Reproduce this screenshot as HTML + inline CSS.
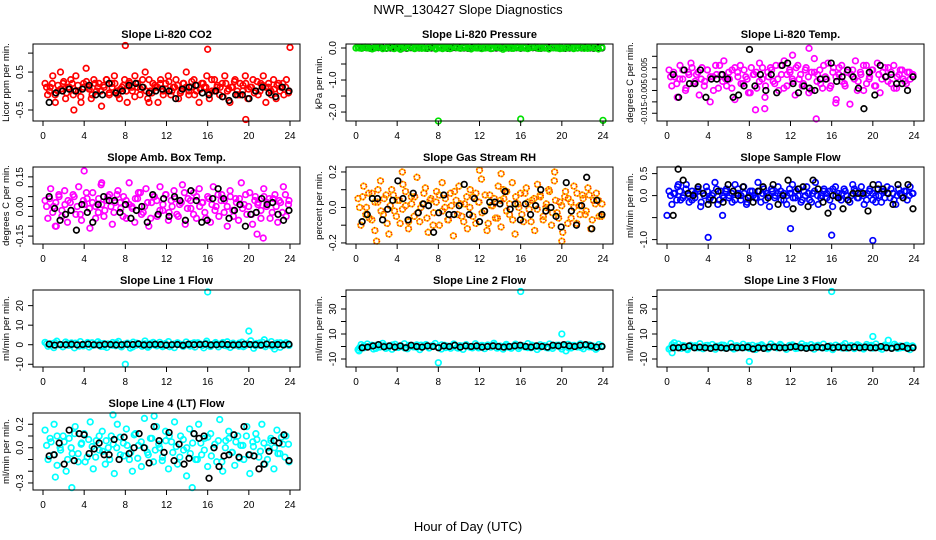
<!DOCTYPE html>
<html><head><meta charset="utf-8"><style>
html,body{margin:0;padding:0;background:#fff;}
svg{display:block;font-family:"Liberation Sans",Arial,sans-serif;}
</style></head><body>
<svg id="chart" width="936" height="540" viewBox="0 0 936 540" xmlns="http://www.w3.org/2000/svg">
<text x="468" y="14" text-anchor="middle" font-size="13">NWR_130427  Slope Diagnostics</text>
<text x="468" y="531" text-anchor="middle" font-size="13">Hour of Day (UTC)</text>
</svg>
<script>
// ---- data arrays ----
const xTicks = [0,4,8,12,16,20,24];
const co2Vals = [0.2,-0.1,0.1,0.4,-0.3,0.0,0.5,0.2,-0.2,0.1,0.3,-0.1,0.4,0.0,-0.3,0.2,0.6,0.1,-0.2,0.3,0.0,0.2,-0.4,0.1,0.3,-0.1,0.2,0.4,0.0,-0.2,0.1,0.3,-0.3,0.2,0.0,0.4,0.1,-0.1,0.3,0.5,-0.2,0.0,0.2,0.1,-0.3,0.3,0.0,0.2,0.4,-0.1,0.1,0.3,-0.2,0.0,0.2,0.5,-0.1,0.1,0.3,0.0,-0.3,0.2,0.1,0.4,-0.2,0.0,0.3,0.1,-0.1,0.2,0.4,0.0,-0.3,0.1,0.3,-0.1,0.2,0.0,0.4,-0.2,0.1,0.3,0.0,-0.1,0.2,0.4,-0.3,0.1,0.0,0.3,-0.2,0.2,0.1,-0.1,0.3,0.0];
const co2Vals2 = [0.1,0.0,0.2,-0.1,0.15,0.05,0.25,-0.05,0.1,0.2,0.0,0.15,-0.15,0.1,0.25,0.05,-0.1,0.2,0.1,0.0,0.15,0.3,-0.05,0.1,0.2,-0.1,0.05,0.15,0.0,0.25,0.1,-0.15,0.2,0.05,0.1,0.0,0.3,-0.05,0.15,0.1,0.2,-0.1,0.05,0.25,0.0,0.1,0.15,-0.05,0.2,0.1,0.0,0.25,-0.1,0.15,0.05,0.2,0.1,-0.05,0.3,0.0,0.15,0.1,-0.15,0.2,0.05,0.1,0.25,0.0,-0.1,0.15,0.2,0.05,0.1,-0.05,0.25,0.0,0.15,0.1,0.2,-0.1,0.05,0.15,0.0,0.2,0.1,-0.05];
const co2Black = [-0.3,-0.05,0.0,0.05,0.0,0.05,0.15,-0.1,-0.1,0.2,-0.05,0.0,0.15,0.2,0.1,-0.05,0.0,0.05,0.0,-0.2,0.05,0.1,0.15,-0.05,-0.1,0.0,-0.15,-0.25,-0.1,-0.1,-0.2,0.0,0.1,-0.05,-0.15,0.1,0.0];
const co2OutHours = [8,16,19.7,24,3,10.3];
const co2OutVals = [1.2,1.1,-0.75,1.15,-0.5,-0.3];

const presVals = [0.02,-0.01,0.03,0.0,-0.03,0.01,0.02,-0.02,0.0,0.03,-0.01,0.01,-0.04,0.02,0.0,0.03,-0.02,0.01,0.02,-0.01,0.0,0.03,-0.03,0.01,0.02,0.0,-0.02,0.03,0.01,-0.01,0.02,0.0,-0.03,0.01,0.03,-0.02,0.0,0.02,-0.01,0.03,0.01,-0.04,0.0,0.02,-0.01,0.03,0.0,0.01,-0.02,0.02,0.03,-0.01,0.0,0.01,-0.03,0.02,0.0,0.03,-0.01,0.01,0.02,-0.02,0.0,0.03,-0.01,0.01,0.02,0.0,-0.03,0.02];
const presVals2 = [0.0,0.01,-0.01,0.02,0.0,-0.02,0.01,0.0,0.02,-0.01,0.0,0.01,-0.02,0.0,0.02,0.01,-0.01,0.0,0.01,-0.02,0.02,0.0,-0.01,0.01,0.0,0.02,-0.01,0.0,0.01,-0.02,0.0,0.02,0.01,-0.01,0.0,0.01];
const presBlack = [0.0,0.01,-0.01,0.0,0.01,0.0,-0.01,0.0,0.01,0.0,0.0,-0.01,0.01,0.0,0.0,0.01,-0.01,0.0,0.0,0.01,0.0,-0.01,0.0,0.01,0.0,0.0,-0.01,0.0,0.01,0.0,0.0,0.01,-0.01,0.0,0.0,0.01,0.0,0.0,0.01,-0.01,0.0,0.0,0.01,0.0,-0.01,0.0,0.0,0.01,0.0,0.0,-0.01,0.0,0.01,0.0,0.0,0.01,0.0,-0.01,0.0,0.0];
const presOutHours = [8,16,24,0];
const presOutVals = [-2.28,-2.22,-2.26,0.0];

const tempVals = [0.004,-0.003,0.001,-0.008,0.006,0.0,-0.005,0.003,0.007,-0.002,0.002,-0.007,0.005,-0.001,0.004,-0.010,0.001,0.006,-0.004,0.002,0.008,-0.003,0.0,0.004,-0.009,0.003,0.006,-0.002,0.001,-0.006,0.005,0.002,-0.004,0.007,0.0,-0.008,0.003,0.005,-0.001,0.006,-0.005,0.002,0.008,-0.003,0.004,0.0,-0.007,0.006,0.002,-0.002,0.005,-0.006,0.003,0.009,-0.001,0.004,-0.004,0.001,0.007,-0.003,0.005,-0.009,0.002,0.006,-0.002,0.003,-0.011,0.004,0.008,-0.001,0.002,-0.005,0.006,0.0,0.004,-0.003,0.007,-0.006,0.003,0.001,0.005,-0.002,0.006,-0.004,0.002,0.004,-0.001,0.003,0.0,0.002];
const tempVals2 = [0.001,0.003,-0.002,0.0,0.004,-0.004,0.002,0.005,-0.001,0.003,0.0,-0.003,0.004,0.001,-0.005,0.002,0.006,-0.001,0.0,0.003,-0.004,0.005,0.001,-0.002,0.004,0.0,-0.006,0.002,0.003,-0.001,0.005,-0.003,0.001,0.004,-0.002,0.0,0.006,-0.004,0.002,0.003,-0.001,0.005,0.0,-0.003,0.004,0.001,-0.005,0.003,0.002,-0.002,0.006,0.0,-0.004,0.003,0.001,0.005,-0.001,-0.003,0.004,0.002,0.0,-0.005,0.003,0.006,-0.002,0.001,0.004,-0.003,0.002,0.0,0.005,-0.001,0.003,-0.004,0.001,0.004,0.0,-0.002,0.003,0.002];
const tempBlack = [0.002,-0.008,0.004,-0.002,-0.002,0.004,-0.008,0.0,0.0,0.002,0.0,-0.008,-0.007,-0.003,0.013,-0.003,0.002,-0.005,0.002,-0.006,0.006,0.007,-0.002,-0.006,-0.003,-0.004,-0.005,0.0,0.0,0.007,-0.001,0.001,0.004,0.001,-0.004,-0.013,0.003,-0.007,0.006,0.001,0.002,-0.002,-0.002,-0.005,0.001];
const tempOutHours = [14.5,13.8,8.6,9.5,12.2,16.4];
const tempOutVals = [-0.0175,0.0135,-0.0135,-0.0130,0.0105,-0.0105];

const ambVals = [0.03,-0.06,0.09,0.0,-0.1,0.05,-0.02,0.08,-0.08,0.02,0.06,-0.04,0.1,-0.07,0.01,0.04,-0.11,0.07,0.0,-0.03,0.11,-0.05,0.03,0.06,-0.09,0.02,0.08,-0.01,0.05,-0.06,0.12,0.0,-0.08,0.04,0.07,-0.03,0.09,-0.1,0.02,0.05,-0.05,0.1,-0.02,0.06,-0.07,0.03,0.08,-0.04,0.01,0.11,-0.09,0.04,-0.01,0.07,-0.06,0.09,0.02,-0.03,0.05,-0.08,0.1,0.0,-0.05,0.06,0.03,-0.1,0.08,-0.02,0.04,-0.07,0.12,0.01,-0.04,0.07,-0.09,0.05,0.02,-0.06,0.09,0.0,0.04,-0.03,0.06,-0.08,0.02,0.1,-0.05,0.03];
const ambVals2 = [0.0,0.04,-0.03,0.02,0.06,-0.05,0.01,0.03,-0.02,0.05,0.0,-0.04,0.03,0.07,-0.01,0.02,-0.06,0.04,0.01,-0.02,0.05,0.0,-0.03,0.06,0.02,-0.05,0.03,0.01,-0.01,0.04,0.07,-0.04,0.0,0.02,-0.06,0.05,0.03,-0.02,0.01,0.06,-0.03,0.0,0.04,-0.05,0.02,0.07,-0.01,0.03,-0.04,0.05,0.0,0.02,-0.06,0.04,0.01,-0.02,0.06,0.03,-0.03,0.0,0.05,-0.05,0.02,0.04,-0.01,0.06,0.0,-0.04,0.03,0.01,-0.02,0.05,0.02,-0.06,0.04,0.0,0.03,-0.03,0.06,0.01];
const ambBlack = [0.05,-0.01,-0.07,-0.04,-0.02,-0.12,0.01,-0.03,-0.08,0.01,0.05,0.03,0.03,-0.03,0.01,-0.06,-0.02,0.0,-0.08,0.06,-0.04,0.04,-0.05,0.05,0.03,-0.07,0.08,0.03,-0.08,-0.07,0.04,0.09,0.04,-0.06,-0.02,0.01,-0.1,-0.04,-0.03,0.04,0.01,0.02,-0.04,-0.07,-0.02];
const ambOutHours = [4,20.8,21.4,5.7,1.2];
const ambOutVals = [0.18,-0.14,-0.16,0.12,-0.1];

const rhVals = [0.05,-0.1,0.12,0.0,-0.06,0.08,-0.13,0.03,0.15,-0.04,0.07,-0.15,0.1,-0.02,0.04,-0.09,0.13,0.01,-0.12,0.06,-0.05,0.17,-0.08,0.02,0.11,-0.14,0.05,-0.03,0.09,-0.1,0.14,0.0,-0.07,0.08,-0.16,0.04,0.12,-0.05,0.02,-0.12,0.1,0.06,-0.09,0.03,0.16,-0.02,-0.13,0.07,0.01,-0.06,0.12,-0.11,0.05,0.09,-0.04,0.14,-0.15,0.02,0.08,-0.08,0.11,-0.01,0.04,-0.13,0.13,0.06,-0.07,0.0,0.1,-0.1,0.15,-0.03,0.03,-0.14,0.09,0.05,-0.06,0.12,-0.09,0.01,0.07,-0.04,0.11,-0.12,0.04,0.08,-0.05,0.02];
const rhVals2 = [0.0,0.06,-0.04,0.08,-0.07,0.03,0.1,-0.02,0.05,-0.09,0.01,0.07,-0.05,0.04,-0.01,0.09,-0.08,0.02,0.06,-0.03,0.0,0.08,-0.06,0.04,-0.1,0.03,0.07,-0.02,0.05,-0.07,0.01,0.09,-0.04,0.02,-0.08,0.06,0.0,-0.05,0.08,0.03,-0.03,0.07,-0.09,0.01,0.05,-0.06,0.04,0.1,-0.02,0.02,-0.07,0.06,0.0,-0.04,0.08,0.03,-0.08,0.05,-0.01,0.07,-0.05,0.02,0.09,-0.03,0.04,-0.06,0.01,0.06,-0.09,0.03,0.0,0.08,-0.04,0.05,-0.02,0.07,-0.07,0.02,0.04,-0.05];
const rhBlack = [-0.08,-0.04,0.05,0.05,-0.07,-0.01,0.04,0.15,0.05,-0.07,0.08,-0.03,0.02,0.01,-0.14,-0.03,0.07,-0.04,-0.04,0.01,0.13,-0.04,0.05,-0.08,-0.02,0.03,0.03,0.02,0.09,-0.01,0.02,-0.07,0.02,-0.04,0.01,0.1,-0.02,0.0,-0.05,-0.11,0.14,-0.02,-0.1,0.01,0.17,-0.12,0.04,-0.04];
const rhOutHours = [2,4.5,12,14.1,19.3,20];
const rhOutVals = [-0.19,0.2,0.21,0.19,0.2,-0.19];

const sampVals = [0.1,-0.2,0.05,0.2,-0.1,0.0,0.25,-0.15,0.1,-0.05,0.15,-0.25,0.05,0.2,-0.1,0.0,0.3,-0.2,0.1,-0.05,0.15,0.0,-0.15,0.25,0.05,-0.1,0.2,-0.2,0.0,0.1,-0.05,0.3,-0.15,0.15,0.05,-0.25,0.1,0.0,0.2,-0.1,0.05,-0.2,0.15,0.25,-0.05,0.0,-0.15,0.1,0.2,-0.1,0.05,0.3,-0.2,0.0,0.15,-0.05,0.1,-0.25,0.2,0.05,-0.1,0.15,0.0,-0.15,0.25,0.1,-0.05,0.2,-0.2,0.05,0.15,-0.1,0.0,0.25,-0.15,0.1,0.2,-0.05,0.05,-0.2,0.15,0.0,0.1,-0.1,0.2,0.05];
const sampVals2 = [0.0,0.05,-0.1,0.1,-0.05,0.15,0.0,-0.1,0.05,0.1,-0.15,0.0,0.1,-0.05,0.05,0.15,-0.1,0.0,0.1,-0.05,0.05,-0.1,0.15,0.0,0.05,-0.15,0.1,0.0,-0.05,0.1,0.05,-0.1,0.0,0.15,-0.05,0.05,0.1,-0.1,0.0,0.05,-0.05,0.1,0.15,-0.1,0.0,0.05,-0.15,0.1,0.0,-0.05,0.1,0.05,-0.1,0.15,0.0,-0.05,0.05,0.1,-0.1,0.0,0.15,-0.05,0.05,0.0,-0.1,0.1,0.05,-0.15,0.0,0.1,-0.05,0.05,0.15,-0.1,0.0,0.05,-0.05,0.1,0.0,0.05];
const sampBlack = [-0.45,0.6,0.35,0.05,0.0,0.2,0.05,-0.2,-0.1,0.1,-0.15,0.25,0.1,0.0,0.2,-0.05,-0.15,0.1,0.2,-0.05,0.25,-0.2,0.0,0.35,-0.3,0.15,0.2,-0.25,0.35,0.15,-0.15,-0.4,0.0,-0.05,-0.3,-0.1,0.05,0.05,0.05,-0.35,0.25,0.15,0.15,0.05,-0.2,0.25,-0.05,0.25,-0.3];
const sampOutHours = [4,12,16,20,0,5.4,1.1];
const sampOutVals = [-0.95,-0.75,-0.9,-1.02,-0.45,-0.45,0.25];

const l1Vals = [1.2,-0.8,0.5,-1.5,1.8,0.0,-1.0,1.4,-0.3,0.9,-1.6,0.4,1.6,-0.6,0.2,-1.2,1.0,-0.1,1.5,-0.9,0.6,-1.4,0.3,1.1,-0.5,1.7,-1.1,0.1,0.8,-1.7,1.3,-0.2,0.4,-0.8,1.9,-1.3,0.7,0.0,-0.6,1.2,-1.0,0.5,1.6,-0.4,-1.5,0.9,0.2,-0.9,1.4,-0.1,0.6,-1.2,1.0,0.3,-1.6,1.8,-0.7,0.1,1.1,-1.1,0.5,-0.3,1.5,-1.4,0.8,0.0,-0.8,1.3,-0.5,0.4,2.0,-1.8,0.7,-0.2,1.2,-1.0,0.3,1.6,-0.6,0.9,-1.3,0.2,1.0,-0.4];
const l1Vals2 = [0.5,-0.5,1.0,0.0,-1.0,0.6,-0.3,0.8,-0.7,0.2,1.1,-0.4,0.0,0.7,-0.9,0.4,-0.2,1.0,-0.6,0.3,0.0,-1.1,0.8,-0.1,0.5,-0.8,1.2,0.1,-0.5,0.6,-1.0,0.3,0.9,-0.3,0.0,-0.7,1.0,0.2,-0.4,0.7,-0.9,0.4,0.0,1.1,-0.6,0.2,-0.2,0.8,-1.0,0.5,0.1,-0.5,0.9,-0.3,0.6,-0.8,0.0,1.0,-0.1,0.4];
const l1Black = [0.3,-0.2,0.1,0.0,0.2,-0.1,0.1,0.3,0.0,-0.2,0.2,0.1,-0.1,0.0,0.2,0.1,0.4,-0.1,0.0,0.2,0.1,-0.2,0.0,0.1,-0.3,0.2,0.0,0.1,0.3,-0.1,0.0,0.2,0.1,-0.1,0.0,0.2,0.1,0.0,-0.2,0.3,0.0,0.1,-0.1,0.2];
const l1OutHours = [16,20,8,22.5,21.5];
const l1OutVals = [27,7,-10,-2.2,2.5];

const l2Vals = [-2.5,1.5,-1.0,2.0,0.0,-2.0,1.0,-0.5,2.5,-1.5,0.5,-2.2,1.8,-0.8,0.2,2.2,-1.8,0.8,-0.3,1.3,-2.5,0.0,1.6,-1.2,0.6,2.4,-0.6,-2.0,1.0,0.3,-1.4,2.0,-0.9,0.7,-2.3,1.5,0.0,-1.1,2.2,-0.4,0.9,-1.7,1.2,-0.2,2.6,-1.3,0.4,-2.1,1.7,-0.7,0.1,1.9,-1.6,0.8,-0.3,2.3,-1.0,0.5,-2.4,1.4,0.2,-0.9,2.0,-1.5,0.6,1.1,-2.0,0.0,1.8,-1.2,0.9,-0.4,2.1,-1.8,0.3,1.3,-0.6,-2.2,1.6,0.0];
const l2Vals2 = [-1.0,0.5,-0.2,1.0,-1.5,0.0,0.8,-0.8,1.2,-0.4,0.3,-1.2,0.9,-0.1,-0.7,1.1,0.2,-1.0,0.6,-0.3,1.3,-0.9,0.0,0.7,-1.3,0.4,1.0,-0.6,0.1,-1.1,0.8,0.3,-0.5,1.2,-0.8,0.0,0.6,-1.4,0.9,-0.2,0.4,-0.9,1.1,0.0,-0.6,0.7,-1.2,0.2,1.0,-0.4,0.5,-1.0,0.8,0.0,-0.7,1.2,-0.3,0.3,-1.1,0.6];
const l2Black = [-1.0,-0.5,0.5,1.5,-0.2,0.5,-0.5,0.5,-1.0,1.0,0.0,-0.5,0.5,0.0,-1.0,0.5,0.0,1.0,-0.5,0.5,0.0,0.5,-0.5,0.0,0.5,0.0,-0.5,0.0,0.5,1.0,0.0,-0.5,0.5,0.0,-0.5,1.0,0.5,1.5,0.5,0.0,1.0,1.5,0.5,-0.5,0.0];
const l2OutHours = [16,20,8,0.3,20.4];
const l2OutVals = [44,10,-13,-3.5,-3.5];

const l3Vals = [-2.0,1.5,-0.5,2.0,-1.5,0.5,-2.5,1.0,0.0,-1.0,2.2,-1.8,0.8,-0.3,1.6,-2.2,0.3,1.2,-1.2,-0.6,2.4,-2.0,0.6,-0.9,1.8,0.0,-1.5,1.0,-2.4,0.4,1.4,-0.7,-1.9,2.0,0.2,-1.1,1.7,-0.4,-2.3,0.9,1.3,-1.6,0.1,2.1,-1.0,-0.2,1.5,-2.1,0.7,-0.8,1.9,-1.4,0.3,-2.5,1.1,0.0,-1.2,2.3,-0.5,0.8,-1.7,1.4,-0.1,-2.0,1.6,0.4,-1.3,2.0,-0.6,-2.2,1.2,0.2,-1.0,1.8,-1.5,0.5,-0.8,1.0,-2.5,0.0];
const l3Vals2 = [-1.2,0.3,-0.6,0.8,-1.5,0.0,0.6,-1.0,-0.2,0.9,-1.3,0.2,-0.7,1.0,-0.4,-1.1,0.5,0.0,-0.9,0.7,-1.4,0.1,0.9,-0.5,-1.2,0.4,-0.2,0.8,-1.0,0.0,0.6,-1.3,-0.3,0.7,-0.8,0.2,1.0,-1.1,-0.4,0.5,-0.9,0.0,0.8,-1.4,0.3,-0.6,0.6,-1.0,0.1,0.9,-0.5,-1.2,0.4,0.0,-0.8,0.7,-1.1,0.2,-0.3,0.5];
const l3Black = [-1.0,-1.0,-0.5,0.5,-1.0,-0.5,-1.0,-1.5,-0.5,-1.0,-1.5,-0.5,-1.0,-1.0,-0.5,-2.0,-1.0,-1.5,-0.5,-0.5,-1.0,-1.0,-0.5,0.0,-1.0,-1.5,-1.0,-0.5,-1.0,0.0,-1.0,-0.5,-1.0,-1.0,-0.5,-1.0,-0.5,-1.0,-1.0,0.0,-1.0,-1.5,-0.5,0.0,-1.5,-1.0];
const l3OutHours = [16,20,21.5,8,0.5,0.7];
const l3OutVals = [44,8,5,-12,-5,3];

const l4Vals = [0.15,-0.1,0.05,0.2,-0.15,0.0,0.1,-0.2,0.08,-0.05,0.18,-0.12,0.03,0.12,-0.08,0.22,-0.18,0.06,-0.02,0.14,-0.14,0.0,0.1,-0.22,0.2,-0.06,0.04,0.16,-0.1,-0.2,0.12,0.02,-0.16,0.25,-0.04,0.08,-0.12,0.18,0.0,-0.08,0.14,-0.18,0.05,0.22,-0.14,0.1,-0.02,-0.24,0.16,0.04,-0.1,0.2,-0.06,0.08,-0.16,0.12,0.0,-0.12,0.24,-0.2,0.06,0.14,-0.04,-0.15,0.1,0.02,-0.1,0.18,-0.22,0.05,0.12,-0.08,0.2,-0.14,0.0,0.08,-0.18,0.15,-0.05,0.03,0.1,-0.12];
const l4Vals2 = [0.02,0.08,-0.06,0.1,-0.02,0.05,-0.1,0.0,0.12,-0.05,0.04,-0.12,0.07,0.01,-0.08,0.1,-0.03,0.06,-0.1,0.03,0.0,0.09,-0.07,0.02,-0.04,0.11,-0.09,0.05,0.0,-0.06,0.08,-0.02,0.03,-0.11,0.06,0.1,-0.04,0.01,-0.08,0.07,0.0,-0.05,0.12,-0.1,0.04,-0.02,0.09,-0.07,0.03,0.06,-0.12,0.0,0.08,-0.04,0.05,-0.09,0.02,0.1,-0.06,0.01,0.07,-0.03,0.04,-0.1,0.06,0.0,-0.05,0.09,-0.08,0.03];
const l4Black = [-0.07,-0.06,0.04,-0.14,0.15,-0.11,0.12,0.11,-0.05,-0.01,0.04,-0.06,-0.06,0.07,-0.1,0.09,-0.05,0.0,0.12,0.0,-0.13,0.18,0.06,-0.04,0.13,-0.11,0.03,-0.14,-0.09,0.12,0.08,0.1,-0.26,0.0,-0.16,-0.07,-0.06,0.11,-0.08,0.18,-0.06,-0.07,-0.18,-0.14,-0.03,0.06,0.04,0.11,-0.11];
const l4OutHours = [2.8,14.5,1.2,6.8,10.8];
const l4OutVals = [-0.34,-0.34,-0.25,0.28,0.27];

// ---- layout ----
const svg = document.getElementById('chart');
const NS = 'http://www.w3.org/2000/svg';
const colX0 = [43,356,667];
const rowTop = [44,167,290,413];
const H = 77, W = 247;
function mk(tag, attrs, parent){ const e=document.createElementNS(NS,tag); for(const k in attrs) e.setAttribute(k,attrs[k]); (parent||svg).appendChild(e); return e; }

const panels = [
 {c:0,r:0,title:'Slope Li-820 CO2',ylab:'Licor ppm per min.',ymin:-0.79,ymax:1.24,ticks:[-0.5,0,0.5,1],labs:['-0.5','','0.5',''],col:'#ff0000',v:co2Vals,v2:co2Vals2,b:co2Black,oh:co2OutHours,ov:co2OutVals,name:'co2'},
 {c:1,r:0,title:'Slope Li-820 Pressure',ylab:'kPa per min.',ymin:-2.28,ymax:0.125,ticks:[-2,-1.5,-1,-0.5,0],labs:['-2.0','','-1.0','','0.0'],col:'#00e000',v:presVals,v2:presVals2,b:presBlack,oh:presOutHours,ov:presOutVals,name:'pressure',greenTop:true},
 {c:2,r:0,title:'Slope Li-820 Temp.',ylab:'degrees C per min.',ymin:-0.0184,ymax:0.0154,ticks:[-0.015,-0.01,-0.005,0,0.005,0.01],labs:['-0.015','','-0.005','','0.005',''],col:'#ff00ff',v:tempVals,v2:tempVals2,b:tempBlack,oh:tempOutHours,ov:tempOutVals,name:'li820-temp',fs:8},
 {c:0,r:1,title:'Slope Amb. Box Temp.',ylab:'degrees C per min.',ymin:-0.19,ymax:0.2,ticks:[-0.15,-0.1,-0.05,0,0.05,0.1,0.15],labs:['-0.15','','','0.00','','','0.15'],col:'#ff00ff',v:ambVals,v2:ambVals2,b:ambBlack,oh:ambOutHours,ov:ambOutVals,name:'amb-box-temp'},
 {c:1,r:1,title:'Slope Gas Stream RH',ylab:'percent per min.',ymin:-0.206,ymax:0.228,ticks:[-0.2,-0.1,0,0.1,0.2],labs:['-0.2','','0.0','','0.2'],col:'#ffc000',v:rhVals,v2:rhVals2,b:rhBlack,oh:rhOutHours,ov:rhOutVals,name:'gas-rh',rh:true},
 {c:2,r:1,title:'Slope Sample Flow',ylab:'ml/min per min.',ymin:-1.1,ymax:0.65,ticks:[-1,-0.5,0,0.5],labs:['-1.0','','0.0','0.5'],col:'#0000ff',v:sampVals,v2:sampVals2,b:sampBlack,oh:sampOutHours,ov:sampOutVals,name:'sample-flow'},
 {c:0,r:2,title:'Slope Line 1 Flow',ylab:'ml/min per min.',ymin:-11.4,ymax:28,ticks:[-10,0,10,20],labs:['-10','0','10','20'],col:'#00ffff',v:l1Vals,v2:l1Vals2,b:l1Black,oh:l1OutHours,ov:l1OutVals,name:'line1-flow'},
 {c:1,r:2,title:'Slope Line 2 Flow',ylab:'ml/min per min.',ymin:-16.4,ymax:45.2,ticks:[-10,0,10,20,30,40],labs:['-10','','10','','30',''],col:'#00ffff',v:l2Vals,v2:l2Vals2,b:l2Black,oh:l2OutHours,ov:l2OutVals,name:'line2-flow'},
 {c:2,r:2,title:'Slope Line 3 Flow',ylab:'ml/min per min.',ymin:-16.4,ymax:45.2,ticks:[-10,0,10,20,30,40],labs:['-10','','10','','30',''],col:'#00ffff',v:l3Vals,v2:l3Vals2,b:l3Black,oh:l3OutHours,ov:l3OutVals,name:'line3-flow'},
 {c:0,r:3,title:'Slope Line 4 (LT) Flow',ylab:'ml/min per min.',ymin:-0.36,ymax:0.296,ticks:[-0.3,-0.2,-0.1,0,0.1,0.2],labs:['-0.3','','','0.0','','0.2'],col:'#00ffff',v:l4Vals,v2:l4Vals2,b:l4Black,oh:l4OutHours,ov:l4OutVals,name:'line4-flow'}
];

panels.forEach(p=>{
  const x0 = colX0[p.c], top = rowTop[p.r], bot = top+H;
  const xs = h => x0 + h*W/24;
  const ys = v => bot - (v-p.ymin)/(p.ymax-p.ymin)*H;
  const g = mk('g',{});
  
  
  const t = mk('text',{x:x0+W/2,y:top-6,'text-anchor':'middle','font-size':'11','font-weight':'bold'},g);
  t.textContent = p.title;
  
  
  const pts = mk('g',{fill:'none','stroke-width':'1.7'},g);
  
  
  const dot = (h,v,stroke,nm)=>{
    const c = mk('circle',{cx:xs(h),cy:ys(v),r:2.8,stroke:stroke},pts);
    
    
    if(p.rh && stroke!=='#000'){
      const c2 = mk('circle',{cx:xs(h),cy:ys(v),r:2.8,stroke:'#ff2000','stroke-dasharray':'1 2'},pts);
      
      
    }
  };
  const drawColored = ()=>{
    const n = p.v.length, n2 = p.v2.length;
    p.v.forEach((v,i)=> dot(0.2+i*23.7/(n-1), v, p.col, p.name+'-point'));
    p.v2.forEach((v,i)=> dot(0.35+i*23.5/(n2-1), v, p.col, p.name+'-point'));
    p.oh.forEach((h,i)=> dot(h, p.ov[i], p.col, p.name+'-outlier'));
  };
  const drawBlack = ()=>{
    const m = p.b.length;
    p.b.forEach((v,i)=> dot(0.6+i*23.3/(m-1), v, '#000', p.name+'-hourly-point'));
  };
  if(p.greenTop){ drawBlack(); drawColored(); } else { drawColored(); drawBlack(); }
  const box = mk('rect',{x:x0-10,y:top,width:W+20,height:H,fill:'none',stroke:'#000','stroke-width':'1'},g);
  
  
  xTicks.forEach(h=>{
    const l = mk('line',{x1:xs(h),x2:xs(h),y1:bot,y2:bot+5,stroke:'#000'},g);
    
    
    const tx = mk('text',{x:xs(h),y:bot+18,'text-anchor':'middle','font-size':'10'},g);
    tx.textContent = h;
    
    
  });
  const lx = x0-10;
  const fs = p.fs || 10;
  p.ticks.forEach((v,i)=>{
    const l = mk('line',{x1:lx-5,x2:lx,y1:ys(v),y2:ys(v),stroke:'#000'},g);
    
    
    if(p.labs[i]){
      const tx = mk('text',{x:lx-10,y:ys(v),'text-anchor':'middle','font-size':fs,transform:`rotate(-90 ${lx-10} ${ys(v)})`},g);
      tx.textContent = p.labs[i];
      
      
    }
  });
  const yl = mk('text',{x:lx-24,y:top+H/2,'text-anchor':'middle','font-size':'9.5',transform:`rotate(-90 ${lx-24} ${top+H/2})`},g);
  yl.textContent = p.ylab;
  
  
});
</script>
</body></html>
